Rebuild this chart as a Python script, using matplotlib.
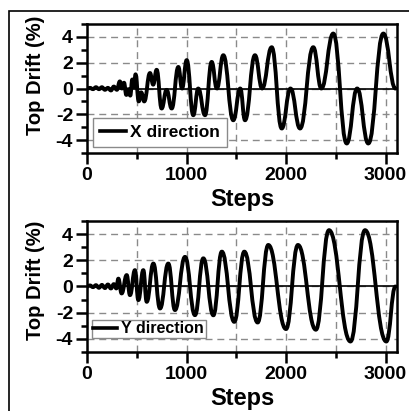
import matplotlib
matplotlib.use('Agg')
import matplotlib.pyplot as plt
import numpy as np
from matplotlib.path import Path
from matplotlib.patches import PathPatch, Rectangle
from matplotlib.lines import Line2D
from matplotlib.ticker import MultipleLocator

plt.rcParams['font.family'] = ['Liberation Sans', 'DejaVu Sans']
plt.rcParams['axes.unicode_minus'] = False

# turning points (step, top drift %)
x_steps = [0, 30, 60, 90, 120, 150, 180, 210, 240, 270, 300,
           330, 350, 372, 395, 415, 435, 455, 470, 488, 520, 545, 575,
           633, 665, 700, 750, 800, 851, 918, 955, 1002, 1068, 1118, 1186,
           1253, 1305, 1370, 1470, 1540, 1588, 1688, 1760, 1856, 1957, 2045, 2141,
           2274, 2355, 2475, 2610, 2715, 2827, 2978, 3100]
x_drift = [0.0, 0.05, -0.05, 0.1, -0.05, 0.1, -0.1, 0.05, -0.15, 0.15, -0.1,
           0.55, 0.0, 0.45, -0.5, -0.05, -0.55, 0.7, 0.1, 1.1, -1.0, -0.3, -1.0,
           1.2, 0.3, 1.45, -1.55, -0.1, -1.55, 1.67, 0.0, 2.2, -2.07, 0.0, -2.07,
           2.06, 0.0, 2.58, -2.46, 0.0, -2.46, 2.58, 0.0, 3.2, -3.1, 0.0, -3.1,
           3.2, 0.0, 4.26, -4.26, 0.0, -4.26, 4.26, 0.0]

y_steps = [0, 30, 60, 90, 120, 150, 180, 210, 240, 270, 295,
           315, 348, 399, 432, 482, 516, 566, 600, 667, 734, 817, 884,
           985, 1085, 1169, 1270, 1355, 1480, 1581, 1715, 1822, 2000,
           2120, 2300, 2432, 2648, 2794, 3008, 3100]
y_drift = [0.0, 0.08, -0.05, 0.1, -0.1, 0.12, -0.12, 0.15, -0.15, 0.18, -0.15,
           0.6, -0.53, 0.87, -0.66, 1.25, -1.04, 1.25, -1.17, 1.75, -1.68, 1.75, -1.8,
           2.26, -2.19, 2.15, -2.2, 2.66, -2.7, 2.66, -2.75, 3.17, -3.25,
           3.17, -3.3, 4.3, -4.2, 4.3, -4.2, 0.0]

panels = [(x_steps, x_drift, 'X direction'), (y_steps, y_drift, 'Y direction')]
x_ticks = [0, 1000, 2000, 3000]
y_ticks = [-4, -2, 0, 2, 4]


def smooth_path(xs, ys):
    # cubic segments with flat tangents at each turning point
    verts = [(xs[0], ys[0])]
    codes = [Path.MOVETO]
    for i in range(1, len(xs)):
        dx = xs[i] - xs[i - 1]
        verts += [(xs[i - 1] + 0.45 * dx, ys[i - 1]),
                  (xs[i] - 0.45 * dx, ys[i]),
                  (xs[i], ys[i])]
        codes += [Path.CURVE4] * 3
    return Path(verts, codes)


fig = plt.figure(figsize=(4.10, 4.11), dpi=100)
fig.patch.set_facecolor('white')
fig.add_artist(Rectangle((9 / 410, -0.2), 1.2, 0.2 + 1 - 11 / 411,
                         transform=fig.transFigure, fill=False,
                         edgecolor='black', lw=1.2))

boxes = [[0.2122, 0.6277, 0.756, 0.3139], [0.2122, 0.1436, 0.756, 0.3187]]
leg_anchor = [(0.019, 0.047), (0.015, 0.107)]
leg_size = [12.5, 11.5]
leg_pad = [0.4, 0.1]
ylab_y = [0.6, 0.55]

for k, (steps, drift, name) in enumerate(panels):
    ax = fig.add_axes(boxes[k])
    ax.add_patch(PathPatch(smooth_path(steps, drift), fill=False,
                           edgecolor='black', lw=2.8, zorder=3,
                           capstyle='round', joinstyle='round'))
    ax.axhline(0, color='black', lw=1.2, zorder=2)
    ax.set_xlim(0, 3115)
    ax.set_ylim(-5, 5)
    ax.set_xticks(x_ticks)
    ax.set_yticks(y_ticks)
    ax.xaxis.set_minor_locator(MultipleLocator(500))
    ax.yaxis.set_minor_locator(MultipleLocator(1))
    ax.grid(True, which='major', color='#8a8a8a', lw=1.0,
            linestyle=(0, (5, 3.5)), zorder=1)
    ax.xaxis.grid(True, which='minor', color='#8a8a8a', lw=1.0,
                  linestyle=(0, (5, 3.5)))
    ax.set_axisbelow(True)
    for s in ax.spines.values():
        s.set_linewidth(1.8)
    ax.tick_params(which='major', direction='out', length=8, width=1.8,
                   labelsize=14, pad=2)
    ax.tick_params(which='minor', direction='out', length=4, width=1.8)
    for lab in ax.get_xticklabels() + ax.get_yticklabels():
        lab.set_fontweight('bold')
    ax.set_xlabel('Steps', fontsize=17, fontweight='bold', labelpad=3)
    ax.set_ylabel('Top Drift (%)', fontsize=14.5, fontweight='bold')
    ax.yaxis.set_label_coords(-0.135, ylab_y[k])
    ax.legend(handles=[Line2D([], [], color='black', lw=2.6)], labels=[name],
              loc='lower left', bbox_to_anchor=leg_anchor[k], borderaxespad=0,
              prop={'weight': 'bold', 'size': leg_size[k]}, handlelength=1.5,
              handletextpad=0.25, borderpad=leg_pad[k], fancybox=False,
              edgecolor='#8a8a8a', framealpha=1)
    ax.get_legend().get_frame().set_linewidth(1.0)

plt.savefig('out.png', dpi=100)
